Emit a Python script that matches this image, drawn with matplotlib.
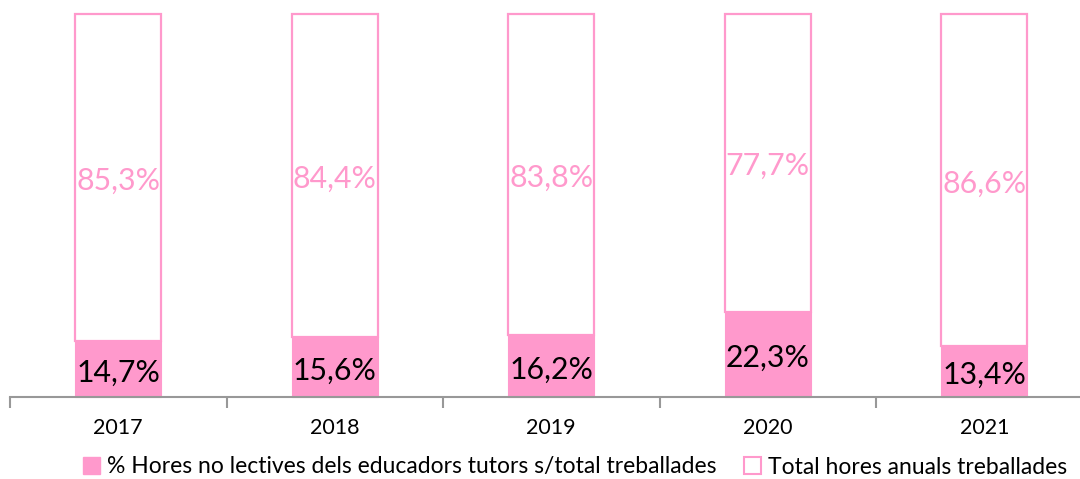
import matplotlib
matplotlib.use("Agg")
import matplotlib.pyplot as plt
from matplotlib.patches import Patch
from matplotlib.transforms import offset_copy

plt.rcParams['font.family'] = ['Lato', 'DejaVu Sans']

years = ['2017', '2018', '2019', '2020', '2021']
non_teaching = [14.7, 15.6, 16.2, 22.3, 13.4]
total_hours = [85.3, 84.4, 83.8, 77.7, 86.6]

series_names = ['% Hores no lectives dels educadors tutors s/total treballades',
                'Total hores anuals treballades']

pink = '#FF99CC'
axis_grey = '#989898'

W, H = 1080, 479
fig = plt.figure(figsize=(W / 100, H / 100), dpi=100)
left, right, bottom, top = 10, 1092.5, 397, 14
ax = fig.add_axes([left / W, 1 - bottom / H, (right - left) / W, (bottom - top) / H])

x = list(range(len(years)))
width = 0.395

b1 = ax.bar(x, non_teaching, width=width, color=pink, edgecolor=pink, linewidth=0.8)
b2 = ax.bar(x, total_hours, width=width, bottom=non_teaching, color='white',
            edgecolor=pink, linewidth=1.6, clip_on=False)
for r in b1:
    r.set_clip_on(False)

def fmt(v):
    return f'{v:.1f}%'.replace('.', ',')

label_tr = offset_copy(ax.transData, fig=fig, x=0, y=-2.5, units='points')
for xi, a, b in zip(x, non_teaching, total_hours):
    ax.text(xi, a / 2, fmt(a), ha='center', va='center', fontsize=21.8,
            color='black', transform=label_tr)
    ax.text(xi, a + b / 2, fmt(b), ha='center', va='center', fontsize=21.8,
            color=pink, transform=label_tr)

ax.set_xlim(-0.5, len(years) - 0.5)
ax.set_ylim(0, 100)
ax.set_yticks([])
for s in ['top', 'right', 'left']:
    ax.spines[s].set_visible(False)
ax.spines['bottom'].set_color(axis_grey)
ax.spines['bottom'].set_linewidth(1.5)

ax.set_xticks([i - 0.5 for i in range(len(years) + 1)], minor=False)
ax.set_xticklabels([''] * (len(years) + 1))
ax.tick_params(axis='x', which='major', length=8, width=1.5, color=axis_grey)
ax.set_xticks(x, minor=True)
ax.set_xticklabels(years, minor=True)
ax.tick_params(axis='x', which='minor', length=0, pad=15, labelsize=15.5)

handles = [Patch(facecolor=pink, edgecolor=pink),
           Patch(facecolor='white', edgecolor=pink, linewidth=1.5)]
fig.legend(handles, series_names, loc='center', bbox_to_anchor=(575 / W, 1 - 467 / H),
           ncol=2, frameon=False, fontsize=16.5, handlelength=0.75, handleheight=0.75,
           handletextpad=0.3, columnspacing=1.2)

fig.savefig('out.png', dpi=100)
